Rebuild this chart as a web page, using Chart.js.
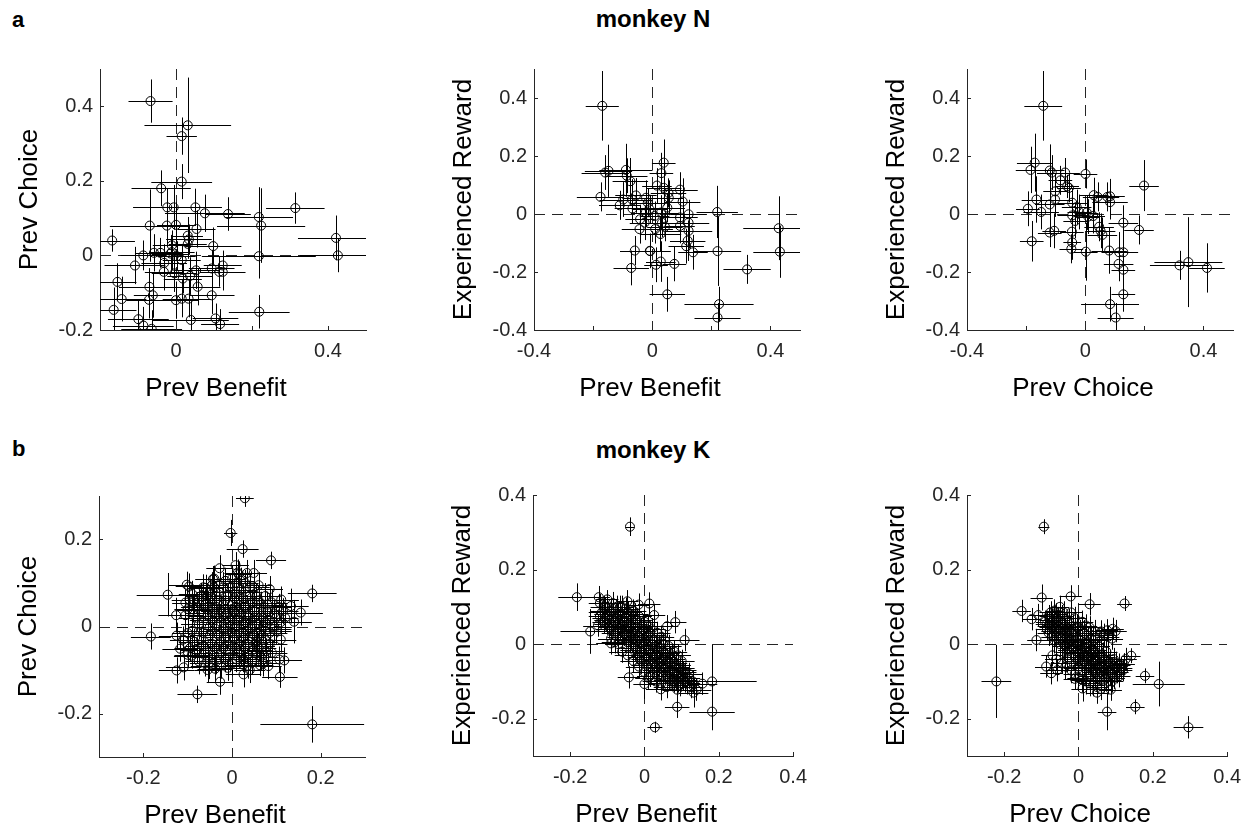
<!DOCTYPE html>
<html>
<head>
<meta charset="utf-8">
<script src="https://cdn.jsdelivr.net/npm/chart.js@4.4.1/dist/chart.umd.min.js"></script>
<style>
  html, body { margin: 0; padding: 0; background: #fff; overflow: hidden; }
  body { width: 1250px; height: 829px; position: relative; font-family: "Liberation Sans", Arial, Helvetica, sans-serif; }
  canvas { position: absolute; }
  .lbl { position: absolute; font-weight: bold; color: #000; white-space: nowrap; }
</style>
</head>
<body>
<div class="lbl" style="left:12px;top:9px;font-size:22px;line-height:22px;">a</div>
<div class="lbl" style="left:553px;top:7px;width:200px;text-align:center;font-size:24px;line-height:24px;">monkey N</div>
<div class="lbl" style="left:12px;top:438px;font-size:22px;line-height:22px;">b</div>
<div class="lbl" style="left:553px;top:438px;width:200px;text-align:center;font-size:24px;line-height:24px;">monkey K</div>

<canvas id="a1"></canvas>
<canvas id="a2"></canvas>
<canvas id="a3"></canvas>
<canvas id="b1"></canvas>
<canvas id="b2"></canvas>
<canvas id="b3"></canvas>

<script>
// ================== DATA ==================
// each point: [x, y, xErr, yErr]

// monkey N : Prev Benefit vs Prev Choice
const nBenefitChoice = [
  [-0.067,0.414,0.058,0.058],[0.031,0.349,0.114,0.128],[0.015,0.32,0.04,0.05],[0.015,0.198,0.08,0.047],
  [-0.039,0.18,0.078,0.048],[-0.023,0.129,0.09,0.05],[-0.006,0.129,0.07,0.06],[0.051,0.129,0.07,0.05],
  [0.076,0.113,0.105,0.05],[0.137,0.111,0.06,0.045],[0.218,0.103,0.09,0.08],[0.224,0.08,0.116,0.1],
  [0.314,0.127,0.077,0.042],[0.421,0.047,0.1,0.06],[0.426,0.0,0.1,0.045],[0.218,-0.002,0.15,0.06],
  [0.219,-0.151,0.08,0.045],[-0.168,0.04,0.06,0.03],[-0.069,0.08,0.105,0.097],[-0.024,0.08,0.06,0.05],
  [0.0,0.082,0.05,0.06],[0.054,0.071,0.05,0.05],[0.031,0.053,0.04,0.05],[0.034,0.043,0.06,0.04],
  [0.031,0.031,0.05,0.04],[-0.011,0.027,0.05,0.04],[0.098,0.025,0.074,0.05],[-0.086,0.0,0.06,0.04],
  [-0.058,0.007,0.05,0.05],[-0.041,0.007,0.06,0.04],[-0.014,0.005,0.05,0.05],[0.002,-0.002,0.05,0.04],
  [0.015,-0.012,0.05,0.04],[-0.108,-0.027,0.08,0.05],[-0.031,-0.02,0.06,0.05],[-0.032,-0.044,0.05,0.05],
  [-0.004,-0.048,0.06,0.05],[0.018,-0.062,0.05,0.04],[0.037,-0.055,0.06,0.05],[0.053,-0.04,0.06,0.05],
  [0.094,-0.035,0.06,0.05],[0.123,-0.027,0.05,0.04],[0.123,-0.044,0.06,0.05],[0.114,-0.044,0.05,0.04],
  [-0.154,-0.071,0.05,0.05],[-0.07,-0.084,0.08,0.05],[-0.061,-0.107,0.05,0.06],[0.057,-0.084,0.06,0.05],
  [-0.143,-0.117,0.065,0.06],[-0.071,-0.119,0.06,0.05],[0.0,-0.12,0.06,0.05],[0.015,-0.116,0.05,0.05],
  [0.033,-0.116,0.06,0.05],[0.094,-0.107,0.06,0.05],[-0.164,-0.146,0.06,0.06],[-0.099,-0.171,0.08,0.05],
  [-0.086,-0.188,0.08,0.05],[-0.064,-0.197,0.08,0.05],[0.039,-0.173,0.1,0.05],[0.104,-0.169,0.06,0.04],
  [0.116,-0.184,0.05,0.04],[-0.011,0.009,0.06,0.05]
];

// monkey N : Prev Benefit vs Experienced Reward
const nBenefitReward = [
  [-0.169,0.373,0.056,0.12],[-0.159,0.143,0.08,0.06],[-0.148,0.149,0.08,0.09],[-0.089,0.152,0.09,0.09],
  [-0.086,0.132,0.07,0.06],[-0.074,0.113,0.06,0.08],[-0.175,0.059,0.08,0.05],[-0.11,0.03,0.07,0.05],
  [-0.098,0.05,0.08,0.06],[-0.068,0.05,0.07,0.07],[-0.067,0.019,0.06,0.05],[-0.055,0.064,0.07,0.06],
  [-0.041,-0.018,0.05,0.05],[-0.043,-0.052,0.06,0.05],[-0.026,-0.03,0.05,0.06],[-0.021,0.056,0.08,0.06],
  [-0.015,0.039,0.06,0.05],[-0.009,0.016,0.06,0.05],[-0.007,-0.128,0.07,0.05],[-0.059,-0.126,0.05,0.05],
  [-0.071,-0.186,0.06,0.06],[0.013,-0.175,0.04,0.06],[0.029,-0.164,0.05,0.07],[0.051,-0.277,0.06,0.06],
  [0.075,-0.172,0.04,0.06],[0.039,0.177,0.04,0.08],[0.031,0.141,0.04,0.07],[0.016,0.098,0.05,0.06],
  [0.039,0.09,0.06,0.06],[0.055,0.073,0.06,0.05],[0.056,0.056,0.05,0.06],[0.051,0.022,0.06,0.05],
  [0.03,0.005,0.06,0.06],[0.033,-0.03,0.07,0.05],[0.01,-0.052,0.06,0.05],[0.028,-0.069,0.07,0.06],
  [0.043,-0.044,0.06,0.05],[0.094,0.084,0.06,0.06],[0.103,0.043,0.06,0.08],[0.094,-0.012,0.06,0.05],
  [0.094,-0.041,0.05,0.06],[0.123,-0.001,0.06,0.05],[0.123,-0.03,0.07,0.05],[0.123,-0.058,0.08,0.06],
  [0.12,-0.092,0.06,0.07],[0.115,-0.111,0.06,0.06],[0.138,-0.132,0.05,0.06],[0.22,0.007,0.07,0.09],
  [0.221,-0.128,0.08,0.12],[0.226,-0.311,0.117,0.06],[0.221,-0.357,0.078,0.05],[0.321,-0.191,0.08,0.05],
  [0.428,-0.049,0.12,0.11],[0.432,-0.13,0.09,0.09],[-0.022,0.005,0.05,0.05],[0.008,-0.007,0.05,0.05],
  [-0.008,-0.127,0.04,0.06]
];

// monkey N : Prev Choice vs Experienced Reward
const nChoiceReward = [
  [-0.142,0.373,0.064,0.12],[-0.171,0.177,0.06,0.1],[-0.185,0.152,0.05,0.08],[-0.194,0.018,0.04,0.06],
  [-0.181,-0.094,0.04,0.07],[-0.165,0.05,0.05,0.08],[-0.149,0.007,0.06,0.06],[-0.12,0.15,0.05,0.09],
  [-0.113,0.143,0.05,0.06],[-0.12,0.033,0.05,0.06],[-0.102,0.05,0.06,0.06],[-0.12,-0.064,0.04,0.05],
  [-0.105,-0.058,0.04,0.06],[-0.102,0.078,0.04,0.06],[-0.084,0.116,0.04,0.05],[-0.068,0.143,0.05,0.05],
  [-0.061,0.095,0.04,0.04],[-0.055,0.09,0.04,0.05],[-0.044,0.039,0.05,0.05],[-0.029,0.024,0.05,0.06],
  [-0.044,-0.005,0.05,0.05],[-0.034,-0.024,0.04,0.06],[-0.02,0.007,0.04,0.06],[-0.045,-0.061,0.04,0.06],
  [-0.044,-0.098,0.03,0.06],[-0.047,-0.12,0.04,0.05],[0.001,0.138,0.04,0.05],[0.002,-0.13,0.04,0.1],
  [0.005,0.005,0.04,0.06],[0.01,-0.009,0.04,0.06],[0.029,0.065,0.05,0.06],[0.042,0.059,0.05,0.05],
  [0.027,-0.007,0.04,0.06],[0.047,-0.044,0.05,0.05],[0.052,-0.058,0.05,0.06],[0.058,-0.072,0.05,0.06],
  [0.075,0.059,0.04,0.05],[0.084,0.061,0.05,0.06],[0.084,0.041,0.06,0.06],[0.081,-0.126,0.06,0.08],
  [0.084,-0.311,0.098,0.06],[0.103,-0.357,0.061,0.05],[0.113,-0.172,0.05,0.06],[0.115,-0.132,0.06,0.07],
  [0.129,-0.03,0.05,0.06],[0.129,-0.132,0.05,0.06],[0.129,-0.192,0.04,0.06],[0.129,-0.277,0.04,0.06],
  [0.182,-0.055,0.05,0.05],[0.199,0.098,0.05,0.088],[0.319,-0.177,0.1,0.05],[0.349,-0.166,0.115,0.155],
  [0.412,-0.186,0.06,0.085]
];

// monkey K : Prev Benefit vs Prev Choice (spread-out points, then the dense core)
const kBenefitChoiceOuter = [
  [0.029,0.295,0.02,0.02],[-0.003,0.215,0.015,0.03],[0.024,0.178,0.036,0.02],[0.088,0.152,0.034,0.02],
  [0.181,-0.225,0.117,0.042],[-0.183,-0.023,0.045,0.03],[-0.145,0.073,0.07,0.05],[-0.078,-0.156,0.045,0.02],
  [0.181,0.076,0.055,0.02],[0.155,0.032,0.05,0.03],[0.14,0.011,0.04,0.05],[0.108,-0.116,0.04,0.025],
  [0.118,-0.078,0.04,0.03],[0.107,-0.076,0.03,0.03],[0.082,-0.091,0.03,0.03],[0.063,-0.089,0.03,0.025],
  [0.026,-0.11,0.04,0.03],[0.026,-0.088,0.04,0.03],[-0.027,-0.127,0.03,0.03],[-0.125,-0.101,0.04,0.03],
  [-0.109,-0.094,0.04,0.03],[-0.126,0.026,0.04,0.04],[-0.105,0.026,0.04,0.04],[-0.102,0.096,0.04,0.03],
  [-0.097,0.092,0.03,0.03],[-0.096,0.062,0.04,0.03],[-0.028,0.134,0.03,0.03],[-0.043,0.109,0.04,0.03],
  [0.008,0.141,0.03,0.03],[0.013,0.124,0.03,0.03],[0.034,0.123,0.03,0.03],[0.049,0.123,0.03,0.03],
  [0.085,0.086,0.03,0.03],[0.111,0.062,0.04,0.03],[0.133,0.047,0.04,0.04],[-0.059,0.089,0.04,0.03],
  [-0.057,0.07,0.04,0.03],[-0.087,0.039,0.04,0.03],[-0.125,-0.021,0.04,0.03],[-0.117,-0.051,0.04,0.03],
  [-0.091,-0.067,0.04,0.03],[-0.053,-0.091,0.04,0.03],[-0.038,-0.097,0.04,0.03],[0.077,-0.057,0.04,0.03],
  [0.057,-0.044,0.04,0.03],[0.094,-0.006,0.04,0.03]
];
const kBenefitChoiceCore = [
  [-0.08,0.02,0.04,0.03],[-0.07,-0.03,0.035,0.03],[-0.06,0.05,0.04,0.035],[-0.06,-0.06,0.03,0.03],
  [-0.05,0.0,0.045,0.03],[-0.05,0.08,0.03,0.03],[-0.045,-0.04,0.04,0.035],[-0.04,0.03,0.05,0.04],
  [-0.035,-0.08,0.03,0.03],[-0.03,0.06,0.035,0.03],[-0.03,-0.02,0.04,0.035],[-0.025,0.01,0.05,0.04],
  [-0.02,0.09,0.03,0.035],[-0.02,-0.05,0.045,0.03],[-0.015,0.04,0.04,0.03],[-0.01,-0.01,0.05,0.04],
  [-0.01,0.07,0.035,0.03],[-0.005,-0.07,0.04,0.035],[0.0,0.02,0.05,0.04],[0.0,0.05,0.04,0.03],
  [0.005,-0.03,0.045,0.035],[0.01,0.1,0.03,0.035],[0.01,0.0,0.05,0.04],[0.015,0.06,0.04,0.03],
  [0.02,-0.06,0.04,0.03],[0.02,0.03,0.045,0.035],[0.025,-0.015,0.05,0.04],[0.03,0.08,0.035,0.03],
  [0.03,0.01,0.04,0.035],[0.035,-0.04,0.045,0.03],[0.04,0.05,0.04,0.03],[0.045,-0.08,0.035,0.03],
  [0.05,0.02,0.045,0.035],[0.05,-0.02,0.04,0.03],[0.055,0.07,0.035,0.03],[0.06,-0.05,0.04,0.03],
  [0.065,0.035,0.04,0.03],[0.07,0.0,0.045,0.035],[0.075,-0.03,0.04,0.03],[0.08,0.05,0.035,0.03],
  [0.085,0.015,0.04,0.03],[0.09,-0.06,0.035,0.03],[0.095,0.03,0.04,0.03],[0.1,-0.01,0.035,0.03],
  [0.105,0.045,0.03,0.03],[0.11,0.01,0.035,0.03],[0.12,0.02,0.03,0.035],[-0.09,-0.01,0.035,0.03],
  [-0.1,0.04,0.03,0.03],[-0.095,-0.05,0.035,0.03],[-0.11,-0.03,0.03,0.03],[-0.085,0.06,0.03,0.03],
  [-0.075,-0.08,0.03,0.03],[-0.065,0.09,0.03,0.03],[-0.055,-0.1,0.03,0.03],[-0.04,0.11,0.03,0.03],
  [-0.01,-0.095,0.035,0.03],[0.015,0.12,0.03,0.03],[0.04,-0.1,0.035,0.03],[0.06,0.095,0.03,0.03],
  [0.075,0.07,0.035,0.03],[0.03,0.1,0.03,0.03],[-0.02,0.02,0.04,0.035],[0.005,0.035,0.045,0.04],
  [0.02,-0.035,0.04,0.035],[-0.035,0.045,0.04,0.035],[0.045,-0.005,0.04,0.035],[0.0,-0.045,0.04,0.035],
  [-0.075,0.005,0.04,0.035],[-0.065,-0.015,0.04,0.035],[-0.055,0.025,0.045,0.035],[-0.045,0.065,0.04,0.03],
  [-0.04,-0.065,0.04,0.03],[-0.035,0.0,0.05,0.04],[-0.03,0.08,0.035,0.03],[-0.025,-0.035,0.045,0.035],
  [-0.02,0.05,0.045,0.035],[-0.015,-0.075,0.04,0.03],[-0.01,0.03,0.05,0.04],[-0.005,0.09,0.035,0.03],
  [0.0,-0.015,0.05,0.04],[0.005,0.065,0.04,0.035],[0.01,-0.05,0.045,0.035],[0.015,0.015,0.05,0.04],
  [0.02,0.085,0.035,0.03],[0.025,-0.075,0.04,0.03],[0.03,0.045,0.045,0.035],[0.035,-0.01,0.05,0.04],
  [0.04,0.07,0.04,0.03],[0.045,-0.055,0.045,0.035],[0.05,0.035,0.045,0.035],[0.055,-0.035,0.045,0.035],
  [0.06,0.06,0.04,0.03],[0.065,-0.07,0.04,0.03],[0.07,0.02,0.045,0.035],[0.075,-0.01,0.045,0.035],
  [0.08,0.035,0.04,0.03],[0.085,-0.04,0.04,0.03],[0.09,0.055,0.035,0.03],[0.095,0.0,0.04,0.03],
  [-0.085,-0.035,0.035,0.03],[-0.08,0.045,0.035,0.03],[-0.07,0.07,0.035,0.03],[-0.06,-0.085,0.035,0.03],
  [-0.05,-0.02,0.045,0.035],[-0.04,0.09,0.035,0.03],[-0.025,-0.09,0.035,0.03],[-0.015,0.105,0.03,0.03],
  [0.0,-0.085,0.035,0.03],[0.02,0.105,0.03,0.03],[0.035,-0.09,0.035,0.03],[0.05,0.09,0.035,0.03],
  [0.07,-0.085,0.035,0.03],[0.1,0.02,0.04,0.03],[0.11,-0.03,0.035,0.03],[0.115,0.035,0.035,0.03],
  [-0.1,-0.015,0.035,0.03],[-0.105,0.055,0.03,0.03],[-0.09,0.075,0.03,0.03],[-0.1,-0.065,0.03,0.03],
  [-0.03,0.02,0.05,0.04],[0.01,0.045,0.05,0.04],[0.04,0.025,0.05,0.04],[0.025,-0.025,0.05,0.04],
  [-0.005,0.0,0.05,0.04],[-0.045,0.015,0.05,0.04],[0.06,0.005,0.05,0.04],[0.015,-0.06,0.045,0.035]
];
const kBenefitChoiceCenter = [
  [-0.055,0.045,0.045,0.035],[-0.045,-0.01,0.045,0.035],[-0.035,0.07,0.04,0.03],[-0.035,-0.05,0.04,0.035],
  [-0.025,0.035,0.045,0.035],[-0.025,-0.06,0.04,0.03],[-0.015,0.06,0.04,0.03],[-0.015,-0.025,0.045,0.035],
  [-0.005,0.015,0.045,0.035],[-0.005,-0.055,0.04,0.035],[0.005,0.08,0.04,0.03],[0.005,-0.005,0.045,0.035],
  [0.015,0.035,0.045,0.035],[0.015,-0.04,0.04,0.035],[0.025,0.065,0.04,0.03],[0.025,0.005,0.045,0.035],
  [0.035,0.025,0.045,0.035],[0.035,-0.065,0.04,0.03],[0.045,0.055,0.04,0.03],[0.045,-0.03,0.045,0.035],
  [0.055,0.005,0.045,0.035],[0.055,-0.06,0.04,0.03],[0.065,0.05,0.04,0.03],[0.065,-0.02,0.045,0.035],
  [0.075,0.01,0.04,0.03],[0.085,-0.015,0.04,0.03],[-0.065,0.03,0.04,0.03],[-0.065,-0.045,0.04,0.03],
  [-0.075,0.055,0.035,0.03],[-0.08,-0.055,0.035,0.03],[-0.055,-0.07,0.035,0.03],[-0.045,0.095,0.035,0.03],
  [0.0,0.11,0.03,0.03],[0.04,0.09,0.035,0.03],[0.01,-0.075,0.04,0.03],[0.03,-0.05,0.045,0.035],
  [-0.04,0.04,0.045,0.035],[-0.02,-0.005,0.045,0.035],[0.0,0.04,0.045,0.035],[0.02,0.02,0.045,0.035]
];

// monkey K : Prev Benefit vs Experienced Reward
const kBenefitRewardOuter = [
  [-0.039,0.315,0.012,0.025],[-0.182,0.126,0.05,0.037],[-0.123,0.126,0.03,0.03],[-0.146,0.034,0.08,0.06],
  [-0.046,0.115,0.03,0.03],[-0.016,0.106,0.03,0.03],[0.013,0.109,0.03,0.03],[0.026,0.078,0.03,0.03],
  [0.083,0.059,0.03,0.03],[0.061,0.048,0.03,0.03],[0.108,0.011,0.04,0.03],[-0.042,-0.089,0.03,0.03],
  [0.0,-0.107,0.03,0.04],[0.028,-0.223,0.02,0.015],[0.088,-0.168,0.033,0.03],[0.182,-0.181,0.061,0.05],
  [0.182,-0.1,0.12,0.1],[0.156,-0.106,0.04,0.03],[0.132,-0.13,0.04,0.04],[0.14,-0.122,0.04,0.03],
  [0.044,-0.121,0.04,0.03],[0.088,-0.122,0.04,0.04],[-0.09,0.002,0.04,0.03],[-0.125,0.05,0.04,0.03]
];
const kBenefitRewardCore = [
  [-0.12,0.11,0.03,0.025],[-0.115,0.085,0.035,0.03],[-0.11,0.06,0.03,0.03],[-0.105,0.1,0.03,0.025],
  [-0.1,0.075,0.035,0.03],[-0.095,0.045,0.03,0.03],[-0.09,0.09,0.035,0.03],[-0.085,0.065,0.04,0.03],
  [-0.08,0.03,0.035,0.03],[-0.075,0.1,0.03,0.03],[-0.07,0.055,0.04,0.035],[-0.065,0.08,0.035,0.03],
  [-0.06,0.02,0.04,0.035],[-0.055,0.06,0.04,0.03],[-0.05,0.04,0.045,0.035],[-0.045,0.085,0.035,0.03],
  [-0.04,0.01,0.04,0.035],[-0.035,0.05,0.045,0.035],[-0.03,0.03,0.045,0.04],[-0.025,-0.01,0.04,0.035],
  [-0.02,0.065,0.04,0.03],[-0.015,0.02,0.045,0.04],[-0.01,-0.02,0.04,0.035],[-0.005,0.04,0.045,0.035],
  [0.0,0.005,0.045,0.04],[0.005,-0.04,0.04,0.035],[0.01,0.025,0.045,0.035],[0.015,-0.015,0.045,0.04],
  [0.02,-0.055,0.04,0.035],[0.025,0.01,0.04,0.035],[0.03,-0.03,0.045,0.04],[0.035,-0.07,0.04,0.035],
  [0.04,-0.01,0.04,0.035],[0.045,-0.045,0.045,0.035],[0.05,-0.085,0.04,0.035],[0.055,-0.025,0.04,0.035],
  [0.06,-0.06,0.045,0.035],[0.065,-0.095,0.04,0.03],[0.07,-0.04,0.04,0.035],[0.075,-0.075,0.04,0.035],
  [0.08,-0.1,0.035,0.03],[0.085,-0.055,0.04,0.035],[0.09,-0.085,0.04,0.035],[0.095,-0.11,0.035,0.03],
  [0.1,-0.07,0.04,0.03],[0.105,-0.095,0.035,0.03],[0.11,-0.08,0.035,0.03],[0.115,-0.105,0.035,0.03],
  [0.12,-0.09,0.03,0.03],[0.13,-0.1,0.03,0.03],[-0.06,0.1,0.03,0.03],[-0.03,0.09,0.035,0.03],
  [0.0,0.06,0.035,0.03],[0.02,0.04,0.035,0.03],[0.045,0.02,0.035,0.03],[0.065,-0.005,0.035,0.03],
  [0.09,-0.03,0.035,0.03],[-0.09,0.015,0.035,0.03],[-0.06,-0.02,0.035,0.03],[-0.03,-0.045,0.035,0.03],
  [0.0,-0.075,0.035,0.03],[0.03,-0.1,0.035,0.03],[0.06,-0.115,0.035,0.03],[-0.07,0.0,0.035,0.03],
  [0.01,-0.09,0.035,0.03],[0.1,-0.045,0.035,0.03],[-0.1,0.12,0.03,0.025],
  [-0.11,0.09,0.035,0.03],[-0.105,0.07,0.035,0.03],[-0.1,0.055,0.035,0.03],[-0.095,0.08,0.04,0.03],
  [-0.09,0.04,0.04,0.035],[-0.085,0.095,0.035,0.03],[-0.08,0.06,0.04,0.035],[-0.075,0.035,0.04,0.035],
  [-0.07,0.08,0.04,0.03],[-0.065,0.045,0.045,0.035],[-0.06,0.065,0.04,0.035],[-0.055,0.03,0.045,0.035],
  [-0.05,0.07,0.04,0.035],[-0.045,0.02,0.045,0.04],[-0.04,0.055,0.045,0.035],[-0.035,0.025,0.045,0.04],
  [-0.03,0.0,0.045,0.04],[-0.025,0.045,0.045,0.035],[-0.02,0.01,0.045,0.04],[-0.015,-0.03,0.045,0.04],
  [-0.01,0.03,0.045,0.04],[-0.005,-0.005,0.045,0.04],[0.0,-0.035,0.045,0.04],[0.005,0.02,0.045,0.035],
  [0.01,-0.015,0.045,0.04],[0.015,-0.045,0.045,0.04],[0.02,0.0,0.045,0.04],[0.025,-0.035,0.045,0.04],
  [0.03,-0.06,0.045,0.035],[0.035,-0.02,0.045,0.04],[0.04,-0.05,0.045,0.04],[0.045,-0.075,0.04,0.035],
  [0.05,-0.04,0.045,0.04],[0.055,-0.065,0.045,0.035],[0.06,-0.085,0.04,0.035],[0.065,-0.05,0.045,0.035],
  [0.07,-0.07,0.045,0.035],[0.075,-0.095,0.04,0.03],[0.08,-0.06,0.04,0.035],[0.085,-0.08,0.04,0.035],
  [0.09,-0.1,0.04,0.03],[0.095,-0.065,0.04,0.03],[0.1,-0.09,0.04,0.03],[0.105,-0.075,0.035,0.03],
  [0.11,-0.1,0.035,0.03],[0.12,-0.08,0.035,0.03],[-0.085,0.11,0.03,0.03],[-0.05,0.095,0.035,0.03],
  [-0.015,0.075,0.035,0.03],[0.01,0.05,0.035,0.03],[0.035,0.03,0.035,0.03],[0.055,0.01,0.035,0.03],
  [0.08,-0.02,0.035,0.03],[-0.08,0.005,0.035,0.03],[-0.045,-0.03,0.035,0.03],[-0.015,-0.06,0.035,0.03],
  [0.015,-0.085,0.035,0.03],[0.045,-0.105,0.035,0.03],[-0.12,0.075,0.03,0.03],[0.125,-0.115,0.03,0.03]
];
const kBenefitRewardCenter = [
  [-0.095,0.065,0.04,0.03],[-0.085,0.05,0.04,0.03],[-0.075,0.07,0.04,0.03],[-0.07,0.04,0.045,0.035],
  [-0.06,0.05,0.045,0.035],[-0.055,0.075,0.04,0.03],[-0.05,0.025,0.045,0.035],[-0.04,0.04,0.045,0.035],
  [-0.035,0.065,0.04,0.03],[-0.03,0.015,0.045,0.035],[-0.02,0.035,0.045,0.035],[-0.02,-0.015,0.045,0.035],
  [-0.01,0.01,0.045,0.035],[-0.005,0.05,0.04,0.03],[0.0,-0.015,0.045,0.035],[0.005,-0.055,0.04,0.035],
  [0.01,0.01,0.045,0.035],[0.02,-0.025,0.045,0.035],[0.025,-0.05,0.045,0.035],[0.03,-0.01,0.045,0.035],
  [0.04,-0.035,0.045,0.035],[0.045,-0.06,0.045,0.035],[0.05,-0.02,0.045,0.035],[0.06,-0.045,0.045,0.035],
  [0.065,-0.075,0.04,0.035],[0.07,-0.05,0.045,0.035],[0.08,-0.075,0.04,0.035],[0.085,-0.095,0.04,0.03],
  [0.09,-0.065,0.04,0.035],[0.1,-0.08,0.04,0.03],[-0.045,0.005,0.04,0.035],[-0.01,-0.045,0.04,0.035],
  [0.035,-0.085,0.04,0.035],[-0.065,0.1,0.035,0.03],[-0.025,0.08,0.035,0.03],[0.015,0.03,0.04,0.03],
  [0.05,0.0,0.04,0.03],[0.075,-0.03,0.04,0.03],[-0.11,0.1,0.035,0.03],[0.11,-0.09,0.035,0.03]
];

// monkey K : Prev Choice vs Experienced Reward
const kChoiceRewardOuter = [
  [-0.093,0.315,0.015,0.02],[-0.221,-0.1,0.04,0.098],[-0.153,0.089,0.025,0.03],[-0.126,0.067,0.025,0.03],
  [-0.113,0.011,0.025,0.03],[-0.099,0.125,0.03,0.035],[-0.108,0.078,0.025,0.03],[-0.021,0.128,0.03,0.03],
  [0.03,0.107,0.03,0.03],[0.124,0.109,0.02,0.02],[-0.087,-0.06,0.03,0.03],[-0.073,-0.078,0.03,0.03],
  [-0.057,-0.07,0.03,0.03],[-0.01,-0.093,0.03,0.03],[0.011,-0.119,0.03,0.035],[0.05,-0.13,0.03,0.03],
  [0.087,-0.122,0.03,0.03],[0.11,-0.086,0.03,0.03],[0.077,-0.181,0.025,0.05],[0.153,-0.168,0.025,0.02],
  [0.179,-0.085,0.025,0.02],[0.216,-0.107,0.07,0.06],[0.296,-0.223,0.04,0.03],[0.142,-0.031,0.025,0.02],
  [0.127,-0.04,0.03,0.03],[0.122,-0.054,0.03,0.03],[0.092,0.041,0.03,0.03],[0.077,0.037,0.03,0.03],
  [0.061,0.034,0.03,0.03]
];
const kChoiceRewardCore = [
  [-0.09,0.06,0.025,0.03],[-0.085,0.04,0.03,0.03],[-0.08,0.075,0.025,0.03],[-0.075,0.05,0.03,0.035],
  [-0.07,0.02,0.03,0.03],[-0.065,0.09,0.025,0.03],[-0.06,0.06,0.03,0.035],[-0.055,0.035,0.035,0.035],
  [-0.05,0.0,0.03,0.035],[-0.045,0.075,0.03,0.03],[-0.04,0.045,0.035,0.04],[-0.035,0.015,0.035,0.04],
  [-0.03,-0.02,0.03,0.035],[-0.025,0.06,0.03,0.035],[-0.02,0.03,0.035,0.04],[-0.015,0.0,0.035,0.04],
  [-0.01,-0.035,0.035,0.04],[-0.005,0.045,0.03,0.035],[0.0,0.015,0.035,0.04],[0.005,-0.015,0.035,0.04],
  [0.01,-0.05,0.035,0.04],[0.015,0.03,0.03,0.035],[0.02,0.0,0.035,0.04],[0.025,-0.03,0.035,0.04],
  [0.03,-0.065,0.03,0.04],[0.035,0.015,0.03,0.035],[0.04,-0.015,0.035,0.04],[0.045,-0.045,0.035,0.04],
  [0.05,-0.08,0.03,0.035],[0.055,-0.005,0.03,0.035],[0.06,-0.03,0.035,0.04],[0.065,-0.06,0.035,0.035],
  [0.07,-0.095,0.03,0.035],[0.075,-0.02,0.03,0.035],[0.08,-0.045,0.035,0.035],[0.085,-0.075,0.03,0.035],
  [0.09,-0.1,0.03,0.03],[0.095,-0.04,0.03,0.03],[0.1,-0.065,0.03,0.03],[0.11,-0.055,0.03,0.03],
  [0.12,-0.07,0.025,0.03],[-0.05,0.1,0.025,0.03],[-0.02,0.085,0.03,0.03],[0.01,0.06,0.03,0.03],
  [0.03,0.045,0.03,0.03],[0.06,0.03,0.03,0.03],[0.08,0.02,0.03,0.03],[0.1,0.035,0.03,0.03],
  [-0.07,-0.03,0.03,0.03],[-0.045,-0.05,0.03,0.03],[-0.02,-0.07,0.03,0.035],[0.0,-0.09,0.03,0.035],
  [0.02,-0.1,0.03,0.035],[0.04,-0.11,0.03,0.03],[0.06,-0.12,0.03,0.03],[0.03,-0.085,0.03,0.035],
  [-0.03,0.03,0.035,0.04],[0.015,-0.035,0.035,0.04],[0.05,-0.06,0.035,0.04],[-0.06,0.08,0.03,0.03],
  [-0.085,0.055,0.03,0.035],[-0.08,0.03,0.03,0.035],[-0.075,0.065,0.03,0.035],[-0.07,0.045,0.035,0.035],
  [-0.065,0.01,0.035,0.035],[-0.06,0.07,0.03,0.035],[-0.055,0.05,0.035,0.04],[-0.05,0.02,0.035,0.04],
  [-0.045,0.06,0.035,0.035],[-0.04,0.03,0.035,0.04],[-0.035,-0.005,0.035,0.04],[-0.03,0.045,0.035,0.04],
  [-0.025,0.015,0.035,0.04],[-0.02,-0.015,0.035,0.04],[-0.015,0.04,0.035,0.04],[-0.01,0.01,0.035,0.04],
  [-0.005,-0.02,0.035,0.04],[0.0,-0.045,0.035,0.04],[0.005,0.025,0.035,0.04],[0.01,-0.005,0.035,0.04],
  [0.015,-0.025,0.035,0.04],[0.02,-0.055,0.035,0.04],[0.025,0.005,0.035,0.04],[0.03,-0.02,0.035,0.04],
  [0.035,-0.045,0.035,0.04],[0.04,-0.07,0.035,0.04],[0.045,-0.02,0.035,0.04],[0.05,-0.045,0.035,0.04],
  [0.055,-0.065,0.035,0.04],[0.06,-0.09,0.03,0.035],[0.065,-0.035,0.035,0.04],[0.07,-0.055,0.035,0.04],
  [0.075,-0.08,0.035,0.035],[0.08,-0.1,0.03,0.035],[0.085,-0.05,0.035,0.035],[0.09,-0.07,0.03,0.035],
  [0.095,-0.09,0.03,0.03],[0.1,-0.05,0.03,0.03],[0.105,-0.075,0.03,0.03],[0.115,-0.065,0.03,0.03],
  [-0.075,0.085,0.03,0.03],[-0.04,0.085,0.03,0.03],[-0.01,0.07,0.03,0.03],[0.02,0.05,0.03,0.03],
  [0.045,0.035,0.03,0.03],[0.07,0.025,0.03,0.03],[0.09,0.015,0.03,0.03],[-0.06,-0.04,0.03,0.03],
  [-0.035,-0.06,0.03,0.035],[-0.01,-0.08,0.03,0.035],[0.01,-0.095,0.03,0.035],[0.03,-0.105,0.03,0.035],
  [0.05,-0.115,0.03,0.03],[-0.02,0.0,0.04,0.045],[0.0,0.0,0.04,0.045],[0.02,-0.02,0.04,0.045],
  [0.04,-0.04,0.04,0.045],[-0.04,0.0,0.04,0.045],[0.06,-0.06,0.04,0.045],[0.0,-0.065,0.04,0.045]
];
const kChoiceRewardCenter = [
  [-0.08,0.05,0.03,0.035],[-0.07,0.06,0.03,0.035],[-0.065,0.035,0.035,0.035],[-0.055,0.065,0.03,0.035],
  [-0.05,0.04,0.035,0.04],[-0.045,0.015,0.035,0.04],[-0.04,0.055,0.035,0.035],[-0.035,0.03,0.035,0.04],
  [-0.03,0.005,0.035,0.04],[-0.025,0.04,0.035,0.04],[-0.02,0.015,0.035,0.04],[-0.015,-0.01,0.035,0.04],
  [-0.01,0.025,0.035,0.04],[-0.005,0.0,0.035,0.04],[0.0,-0.025,0.035,0.04],[0.005,0.01,0.035,0.04],
  [0.01,-0.015,0.035,0.04],[0.015,-0.045,0.035,0.04],[0.02,-0.01,0.035,0.04],[0.025,-0.04,0.035,0.04],
  [0.03,-0.06,0.035,0.04],[0.035,-0.025,0.035,0.04],[0.04,-0.05,0.035,0.04],[0.045,-0.075,0.035,0.04],
  [0.05,-0.03,0.035,0.04],[0.055,-0.055,0.035,0.04],[0.06,-0.075,0.035,0.04],[0.065,-0.045,0.035,0.04],
  [0.07,-0.07,0.035,0.04],[0.075,-0.09,0.03,0.035],[0.08,-0.06,0.035,0.035],[0.09,-0.08,0.03,0.035],
  [0.095,-0.06,0.03,0.035],[-0.06,0.02,0.035,0.035],[-0.03,-0.04,0.035,0.035],[0.0,-0.06,0.035,0.04],
  [0.03,-0.08,0.035,0.04],[-0.05,0.085,0.03,0.03],[0.0,0.045,0.03,0.035],[0.04,0.01,0.035,0.035]
];

// ================== TICKS ==================
const nTicksBenefit = [-0.2, 0, 0.2, 0.4];
const nLabelsBenefit = ["", "0", "", "0.4"];
const nTicksChoice = [-0.2, 0, 0.2, 0.4];
const nLabelsChoice = ["-0.2", "0", "0.2", "0.4"];
const nTicksWide = [-0.4, -0.2, 0, 0.2, 0.4];
const nLabelsWideX = ["-0.4", "", "0", "", "0.4"];
const nLabelsWideY = ["-0.4", "-0.2", "0", "0.2", "0.4"];
const kTicksSmall = [-0.2, 0, 0.2];
const kLabelsSmall = ["-0.2", "0", "0.2"];
const kTicksWide = [-0.2, 0, 0.2, 0.4];
const kLabelsWide = ["-0.2", "0", "0.2", "0.4"];

// ================== LAYOUT ==================
const FONT = '"Liberation Sans", Arial, Helvetica, sans-serif';
const INK = "#262626";
const PLOT_W = 266, PLOT_H = 265;
const PAD_L = 95, PAD_T = 15, PAD_R = 17, PAD_B = 80;

// ================== PLUGIN: zero lines, error bars, inward ticks, axis titles ==================
const panelDecor = {
  id: "panelDecor",
  beforeDatasetsDraw(chart) {
    const { ctx, chartArea: a, scales: { x, y } } = chart;
    ctx.save();
    ctx.beginPath();
    ctx.rect(a.left, a.top, a.right - a.left, a.bottom - a.top);
    ctx.clip();

    // dashed zero lines
    ctx.strokeStyle = INK;
    ctx.lineWidth = 1;
    ctx.setLineDash([11, 7]);
    const x0 = Math.round(x.getPixelForValue(0)) + 0.5;
    const y0 = Math.round(y.getPixelForValue(0)) + 0.5;
    ctx.beginPath();
    ctx.moveTo(x0, a.top); ctx.lineTo(x0, a.bottom);
    ctx.moveTo(a.left, y0); ctx.lineTo(a.right, y0);
    ctx.stroke();
    ctx.setLineDash([]);

    // error bars
    ctx.strokeStyle = "#000";
    chart.data.datasets[0].data.forEach(p => {
      const px = Math.round(x.getPixelForValue(p.x)) + 0.5;
      const py = Math.round(y.getPixelForValue(p.y)) + 0.5;
      ctx.beginPath();
      ctx.moveTo(x.getPixelForValue(p.x - p.ex), py);
      ctx.lineTo(x.getPixelForValue(p.x + p.ex), py);
      ctx.moveTo(px, y.getPixelForValue(p.y - p.ey));
      ctx.lineTo(px, y.getPixelForValue(p.y + p.ey));
      ctx.stroke();
    });
    ctx.restore();
  },
  afterDraw(chart, args, opts) {
    const { ctx, chartArea: a, scales: { x, y } } = chart;
    ctx.save();
    // inward tick marks
    ctx.strokeStyle = INK;
    ctx.lineWidth = 1;
    ctx.beginPath();
    x.ticks.forEach(t => {
      const px = Math.round(x.getPixelForValue(t.value)) + 0.5;
      ctx.moveTo(px, a.bottom); ctx.lineTo(px, a.bottom - 4);
    });
    y.ticks.forEach(t => {
      const py = Math.round(y.getPixelForValue(t.value)) + 0.5;
      ctx.moveTo(a.left, py); ctx.lineTo(a.left + 4, py);
    });
    ctx.stroke();

    // axis titles
    ctx.fillStyle = "#000";
    ctx.font = `26px ${FONT}`;
    ctx.textAlign = "center";
    ctx.textBaseline = "alphabetic";
    ctx.fillText(opts.xTitle, (a.left + a.right) / 2 - 17, a.bottom + 66);
    ctx.translate(a.left - 63, (a.top + a.bottom) / 2);
    ctx.rotate(-Math.PI / 2);
    ctx.fillText(opts.yTitle, 0, 0);
    ctx.restore();
  }
};

// ================== BUILD A PANEL ==================
function makePanel(id, left, top, points, xr, yr, xTicks, xLabels, yTicks, yLabels, xTitle, yTitle) {
  const cv = document.getElementById(id);
  cv.width = PAD_L + PLOT_W + PAD_R;
  cv.height = PAD_T + PLOT_H + PAD_B;
  cv.style.left = (left - PAD_L) + "px";
  cv.style.top = (top - PAD_T) + "px";

  const axis = (range, ticks, labels, isX) => ({
    type: "linear",
    position: isX ? "bottom" : "left",
    min: range[0],
    max: range[1],
    grid: { display: false, drawTicks: false },
    border: { display: true, color: INK, width: 1 },
    afterBuildTicks: s => { s.ticks = ticks.map(v => ({ value: v })); },
    afterFit: s => { if (isX) s.height = PAD_B; else s.width = PAD_L; },
    ticks: {
      autoSkip: false,
      maxRotation: 0,
      padding: isX ? 9 : 7,
      color: INK,
      font: { family: FONT, size: 20 },
      callback: (v, i) => labels[i]
    }
  });

  return new Chart(cv, {
    type: "scatter",
    data: {
      datasets: [{
        data: points.map(([x, y, ex, ey]) => ({ x, y, ex, ey })),
        pointStyle: "circle",
        pointRadius: 4.5,
        pointBorderWidth: 1,
        pointBorderColor: "#000",
        pointBackgroundColor: "rgba(0,0,0,0)"
      }]
    },
    options: {
      responsive: false,
      animation: false,
      devicePixelRatio: 1,
      layout: { padding: { left: 0, top: PAD_T, right: PAD_R, bottom: 0 } },
      plugins: {
        legend: { display: false },
        tooltip: { enabled: false },
        panelDecor: { xTitle, yTitle }
      },
      scales: {
        x: axis(xr, xTicks, xLabels, true),
        y: axis(yr, yTicks, yLabels, false)
      }
    },
    plugins: [panelDecor]
  });
}

// ================== INITIALIZE ==================
makePanel("a1", 100, 65, nBenefitChoice, [-0.2, 0.5], [-0.2, 0.5],
  nTicksBenefit, nLabelsBenefit, nTicksChoice, nLabelsChoice, "Prev Benefit", "Prev Choice");
makePanel("a2", 534, 65, nBenefitReward, [-0.4, 0.5], [-0.4, 0.5],
  nTicksWide, nLabelsWideX, nTicksWide, nLabelsWideY, "Prev Benefit", "Experienced Reward");
makePanel("a3", 967, 65, nChoiceReward, [-0.4, 0.5], [-0.4, 0.5],
  nTicksWide, nLabelsWideX, nTicksWide, nLabelsWideY, "Prev Choice", "Experienced Reward");
makePanel("b1", 99, 492, kBenefitChoiceOuter.concat(kBenefitChoiceCore, kBenefitChoiceCenter), [-0.3, 0.3], [-0.3, 0.3],
  kTicksSmall, kLabelsSmall, kTicksSmall, kLabelsSmall, "Prev Benefit", "Prev Choice");
makePanel("b2", 533, 491, kBenefitRewardOuter.concat(kBenefitRewardCore, kBenefitRewardCenter), [-0.3, 0.4], [-0.3, 0.4],
  kTicksWide, kLabelsWide, kTicksWide, kLabelsWide, "Prev Benefit", "Experienced Reward");
makePanel("b3", 967, 491, kChoiceRewardOuter.concat(kChoiceRewardCore, kChoiceRewardCenter), [-0.3, 0.4], [-0.3, 0.4],
  kTicksWide, kLabelsWide, kTicksWide, kLabelsWide, "Prev Choice", "Experienced Reward");
</script>
</body>
</html>
